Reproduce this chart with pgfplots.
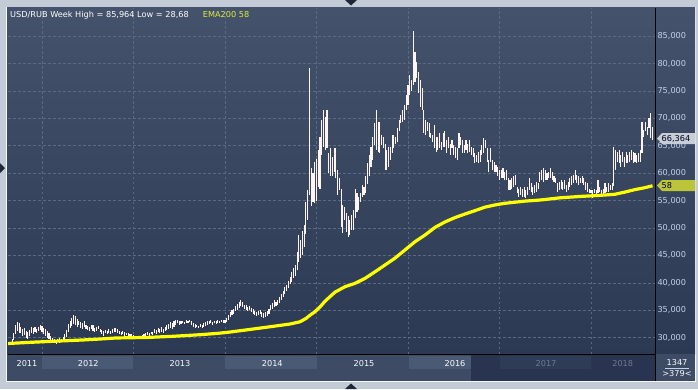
\documentclass[border=0pt]{standalone}
\usepackage{pgfplots}
\pgfplotsset{compat=1.18}
\usepackage{pgfplotstable}
\usepackage{fontspec}
\setmainfont{DejaVu Sans}
\definecolor{outer}{HTML}{C3CBD7}
\definecolor{ptop}{HTML}{45526B}
\definecolor{pbot}{HTML}{2C3953}
\definecolor{xbg}{HTML}{3D4B65}
\definecolor{band}{HTML}{4B5A74}
\definecolor{scroll}{HTML}{283450}
\definecolor{scrollband}{HTML}{2F3C56}
\definecolor{gridcol}{HTML}{5B6A84}
\definecolor{barcol}{HTML}{FFF4F0}
\definecolor{emacol}{HTML}{FFFF00}
\definecolor{tickcol}{HTML}{C2D2EA}
\definecolor{ematxt}{HTML}{DCEC3C}
\definecolor{tagg}{HTML}{C8CDD6}
\definecolor{tagy}{HTML}{BCC43A}
\definecolor{dimtxt}{HTML}{6C7A92}
\definecolor{tri}{HTML}{1E2838}
\pgfplotstableread{
w lo hi
0 28.7 29.3
1 29.0 29.8
2 29.6 30.8
3 30.6 32.3
4 31.2 32.9
5 30.8 32.6
6 30.9 32.0
7 30.3 31.6
8 30.5 31.8
9 29.9 31.2
10 29.7 31.0
11 30.4 31.4
12 30.8 31.9
13 30.6 31.7
14 31.0 32.0
15 30.9 31.6
16 31.2 31.9
17 31.4 32.4
18 31.0 32.2
19 30.6 31.8
20 30.4 31.5
21 30.0 31.2
22 29.8 30.9
23 29.4 30.4
24 29.1 29.9
25 29.0 29.7
26 28.9 29.6
27 29.2 29.8
28 29.0 29.9
29 29.2 29.8
30 29.3 30.1
31 29.5 30.6
32 30.2 31.4
33 31.0 32.5
34 31.8 33.0
35 32.2 33.6
36 32.5 34.1
37 32.3 34.0
38 32.0 33.4
39 32.3 33.1
40 31.8 32.9
41 31.5 32.6
42 31.9 33.1
43 31.6 32.4
44 31.4 32.2
45 31.2 31.9
46 31.6 32.4
47 31.3 32.3
48 31.0 31.8
49 31.2 32.0
50 31.5 32.2
51 31.0 31.6
52 30.6 31.4
53 30.4 31.2
54 30.8 31.4
55 30.7 31.3
56 30.9 31.6
57 30.6 31.3
58 30.9 31.5
59 31.0 31.7
60 31.1 31.7
61 30.9 31.5
62 30.6 31.3
63 30.5 31.1
64 30.6 31.2
65 30.4 31.0
66 30.5 30.9
67 30.3 30.8
68 30.1 30.6
69 30.2 30.6
70 30.0 30.5
71 30.1 30.4
72 30.0 30.3
73 30.1 30.4
74 30.0 30.3
75 30.1 30.5
76 30.2 30.6
77 30.4 30.9
78 30.5 31.0
79 30.3 30.8
80 30.6 31.1
81 30.5 31.0
82 30.9 31.5
83 30.7 31.4
84 31.0 31.8
85 30.8 31.5
86 31.1 31.9
87 30.9 31.6
88 31.2 32.0
89 31.4 32.3
90 31.6 32.5
91 31.8 32.8
92 31.5 32.6
93 32.0 33.0
94 32.4 33.3
95 32.6 33.2
96 32.3 33.0
97 32.5 33.1
98 32.6 33.0
99 32.5 32.9
100 32.7 33.2
101 32.6 33.1
102 32.8 33.3
103 32.4 33.0
104 32.0 32.6
105 31.8 32.5
106 31.9 32.3
107 31.7 32.2
108 31.9 32.5
109 31.8 32.4
110 32.0 32.6
111 32.2 32.8
112 32.4 33.0
113 32.5 33.1
114 32.6 33.2
115 32.4 32.9
116 32.6 33.1
117 32.5 33.0
118 32.7 33.2
119 32.6 33.0
120 32.8 33.3
121 32.7 33.2
122 32.7 33.3
123 32.9 33.6
124 33.3 34.2
125 33.8 34.7
126 34.2 35.1
127 34.4 35.3
128 34.8 35.7
129 35.1 36.2
130 35.4 36.6
131 35.8 36.9
132 35.6 36.5
133 35.3 36.0
134 35.1 35.9
135 34.9 35.6
136 35.0 35.8
137 34.6 35.5
138 34.4 35.2
139 34.2 34.9
140 33.9 34.7
141 34.1 34.8
142 34.3 35.0
143 33.8 34.7
144 33.6 34.5
145 33.8 34.6
146 34.0 34.9
147 34.3 35.3
148 35.0 35.9
149 35.3 36.4
150 35.6 36.9
151 35.8 36.6
152 35.9 36.9
153 36.4 37.4
154 36.9 38.0
155 37.5 38.6
156 37.9 39.2
157 38.6 39.6
158 39.1 40.3
159 39.8 41.0
160 40.2 41.9
161 40.8 42.7
162 41.3 43.3
163 42.4 45.7
164 43.8 48.8
165 44.6 47.8
166 45.0 49.4
167 46.5 50.5
168 48.9 54.8
169 51.4 56.9
170 56.0 79.1
171 54.0 61.0
172 54.8 60.0
173 54.6 62.0
174 55.0 62.5
175 57.4 64.2
176 57.2 66.6
177 63.3 69.7
178 64.7 71.5
179 64.2 70.3
180 64.6 71.5
181 60.0 63.6
182 59.4 64.5
183 59.4 63.0
184 60.3 64.5
185 59.1 64.5
186 56.0 60.6
187 56.9 59.1
188 50.2 57.2
189 49.0 54.2
190 51.5 53.9
191 49.3 52.7
192 48.4 52.1
193 48.7 51.5
194 49.6 52.4
195 49.6 53.3
196 51.8 57.2
197 53.0 56.3
198 53.3 55.7
199 54.8 56.3
200 55.7 57.8
201 56.0 57.5
202 56.3 59.4
203 58.1 61.8
204 59.4 63.3
205 61.2 64.8
206 62.4 66.6
207 65.1 69.1
208 64.2 71.5
209 63.9 69.4
210 63.6 69.4
211 65.1 66.9
212 64.5 66.6
213 60.6 65.4
214 60.6 64.2
215 61.2 64.8
216 62.4 64.8
217 63.6 67.0
218 64.5 67.0
219 65.4 66.6
220 65.7 68.2
221 67.6 69.7
222 69.1 70.6
223 69.4 71.5
224 69.7 72.4
225 71.5 74.3
226 72.4 76.1
227 74.3 77.9
228 74.9 77.0
229 76.1 85.96
230 76.7 82.1
231 77.3 80.3
232 74.6 78.5
233 72.0 77.0
234 71.5 75.5
235 67.3 71.5
236 66.9 69.7
237 67.6 69.4
238 66.6 69.1
239 66.4 67.3
240 65.7 67.0
241 64.5 68.8
242 63.9 66.6
243 64.2 66.6
244 64.5 67.3
245 64.2 65.7
246 64.8 67.3
247 64.8 67.6
248 63.6 66.0
249 64.5 66.6
250 63.3 65.4
251 64.5 66.0
252 63.3 65.1
253 62.7 64.8
254 62.4 64.5
255 64.5 67.3
256 65.1 66.6
257 63.6 66.0
258 63.6 65.1
259 64.2 66.0
260 63.6 65.4
261 63.9 66.0
262 63.3 64.8
263 63.0 64.5
264 61.8 63.6
265 62.1 63.3
266 61.8 63.9
267 62.1 64.2
268 63.3 65.1
269 63.6 66.4
270 64.5 66.0
271 62.1 64.5
272 60.3 62.4
273 62.1 64.5
274 60.6 62.4
275 60.3 62.1
276 60.3 61.5
277 59.4 61.2
278 58.8 60.6
279 59.1 60.6
280 59.1 60.9
281 58.8 60.3
282 58.8 60.6
283 56.9 59.1
284 56.9 58.8
285 57.2 59.1
286 57.5 59.4
287 57.8 59.7
288 56.3 57.5
289 55.7 57.2
290 56.0 57.5
291 55.7 57.2
292 55.7 57.5
293 55.4 56.9
294 56.0 57.5
295 56.9 59.1
296 56.6 58.2
297 56.0 57.5
298 56.3 57.8
299 56.6 58.4
300 57.2 58.2
301 58.4 60.3
302 58.8 60.6
303 58.4 60.9
304 58.8 60.6
305 58.8 60.0
306 59.1 60.3
307 59.1 60.9
308 58.8 60.3
309 58.4 59.4
310 58.2 59.1
311 56.6 58.2
312 56.9 58.4
313 57.2 58.8
314 56.9 58.4
315 57.2 58.8
316 56.6 57.8
317 56.9 58.4
318 57.5 59.1
319 57.8 59.4
320 58.2 59.7
321 58.8 60.6
322 58.2 59.7
323 57.8 59.4
324 58.2 59.1
325 58.2 59.4
326 57.8 59.1
327 56.9 58.4
328 56.6 58.2
329 56.3 57.2
330 56.3 56.9
331 55.4 56.9
332 56.3 57.2
333 56.0 56.9
334 56.3 58.8
335 56.6 57.5
336 55.7 56.9
337 56.0 57.2
338 56.3 58.2
339 56.6 57.5
340 56.6 58.2
341 56.9 57.8
342 56.9 58.2
343 57.6 64.8
344 60.6 64.2
345 62.1 63.9
346 61.8 64.2
347 61.2 63.3
348 62.1 63.9
349 61.2 63.0
350 61.8 63.9
351 61.8 63.3
352 62.1 63.9
353 62.4 64.2
354 61.8 63.9
355 62.1 63.6
356 61.8 63.3
357 62.1 63.6
358 62.1 64.2
359 63.6 69.4
360 66.6 67.9
361 67.6 69.4
362 67.0 68.5
363 68.2 70.0
364 66.4 70.9
365 66.0 68.5
}\bars
\pgfplotstableread{
w v
-1.3 28.95
0 28.97
14 29.2
28 29.4
42 29.6
51 29.76
60 29.95
78 30.05
92 30.25
100 30.4
108 30.55
118 30.8
124 31.0
136 31.5
150 32.1
159 32.5
164.6 32.9
168 33.5
170.3 34.1
173 34.7
176 35.6
179 36.7
184.5 38.3
190.2 39.3
195.8 39.9
201.5 40.8
207.2 42.0
212.9 43.25
218.6 44.5
224.3 46.0
230 47.5
235.6 48.7
241.3 50.1
247 51.1
252.7 51.9
258.4 52.55
264 53.15
269.7 53.8
275.4 54.2
281 54.5
286.7 54.7
292.4 54.9
301 55.1
312.3 55.5
323.7 55.75
335 55.95
343.6 56.15
349.3 56.55
355 57.0
360.6 57.35
365 57.7
}\ema
\begin{document}
\begin{tikzpicture}[x=1bp,y=1bp,font=\fontsize{8.2}{9.5}\selectfont]
\useasboundingbox (0,0) rectangle (698,389);
\fill[outer] (0,0) rectangle (698,389);
\draw[white!85!outer,line width=0.8bp] (6.5,7.5) rectangle (695.5,381.5);
\shade[top color=ptop,bottom color=pbot] (7,35) rectangle (695,381);
\fill[xbg] (7,8) rectangle (695,35);
\fill[band] (42,20.3) rectangle (133,33.3);
\fill[band] (225,20.3) rectangle (317,33.3);
\fill[band] (409,20.3) rectangle (471,33.3);
\fill[scroll] (471,8) rectangle (655,35);
\fill[scrollband] (500,20.3) rectangle (591,33.3);
\begin{axis}[
  at={(8bp,35bp)}, anchor=south west,
  width=647bp, height=346bp, scale only axis,
  xmin=-1.32, xmax=366.4, ymin=27.03, ymax=90.11,
  axis line style={draw=none},
  xtick={18,70,122,174,226,278,330}, xticklabels={},
  ytick={30,35,...,85},
  yticklabel pos=right,
  major tick length=0pt,
  grid=major,
  major grid style={gridcol,dash pattern=on 2.5bp off 2.5bp,line width=0.7bp},
  yticklabel style={font=\fontsize{8.2}{9.5}\selectfont,text=tickcol,anchor=west,xshift=-1bp},
  /pgf/number format/.cd,fixed,fixed zerofill,precision=3,use comma,1000 sep={},assume math mode=true,
]
\addplot[draw=none,no markers,forget plot,
  error bars/.cd,y dir=both,y explicit,error mark=none,
  error bar style={line width=1.1bp,draw=barcol,solid}]
  table[x=w,y expr=(\thisrow{lo}+\thisrow{hi})/2,y error expr=(\thisrow{hi}-\thisrow{lo})/2]{\bars};
\addplot[emacol,line width=3.2bp,line join=round,mark=none] table[x=w,y=v]{\ema};
\end{axis}
\draw[black,line width=1bp] (8,35) -- (655,35);
\draw[black,line width=1bp] (655,8) -- (655,381);
\node[anchor=base west,inner sep=0,text=white] at (10,371.7) {USD/RUB Week High = 85,964 Low = 28,68};
\node[anchor=base west,inner sep=0,text=ematxt] at (202.7,371.7) {EMA200 58};
\foreach \x/\t in {27/2011,88.3/2012,180/2013,272.3/2014,364/2015,455/2016}
  \node[anchor=base,inner sep=0,text=white!90!tickcol] at (\x,23) {\t};
\foreach \x/\t in {546/2017,622.7/2018}
  \node[anchor=base,inner sep=0,text=dimtxt] at (\x,23) {\t};
\node[anchor=base,inner sep=0,text=white!90!tickcol] at (677,24) {1347};
\draw[tickcol,line width=0.6bp] (665,20.7) -- (689,20.7);
\node[anchor=base,inner sep=0,text=white!90!tickcol] at (677,12.3) {>379<};
\fill[tagg] (657,250.5) -- (662,256) -- (695,256) -- (695,245) -- (662,245) -- cycle;
\node[anchor=west,inner sep=0,text=black!85!blue] at (661.5,250.5) {66,364};
\fill[tagy] (657,203.5) -- (662,209) -- (695,209) -- (695,198) -- (662,198) -- cycle;
\node[anchor=west,inner sep=0,text=black!85!blue] at (661.5,203.5) {58};
\fill[tri] (0,216) -- (5,221) -- (0,226) -- cycle;
\fill[tri] (345,389) -- (357,389) -- (351,383.5) -- cycle;
\fill[tri] (345,0) -- (357,0) -- (351,5.5) -- cycle;
\end{tikzpicture}
\end{document}
